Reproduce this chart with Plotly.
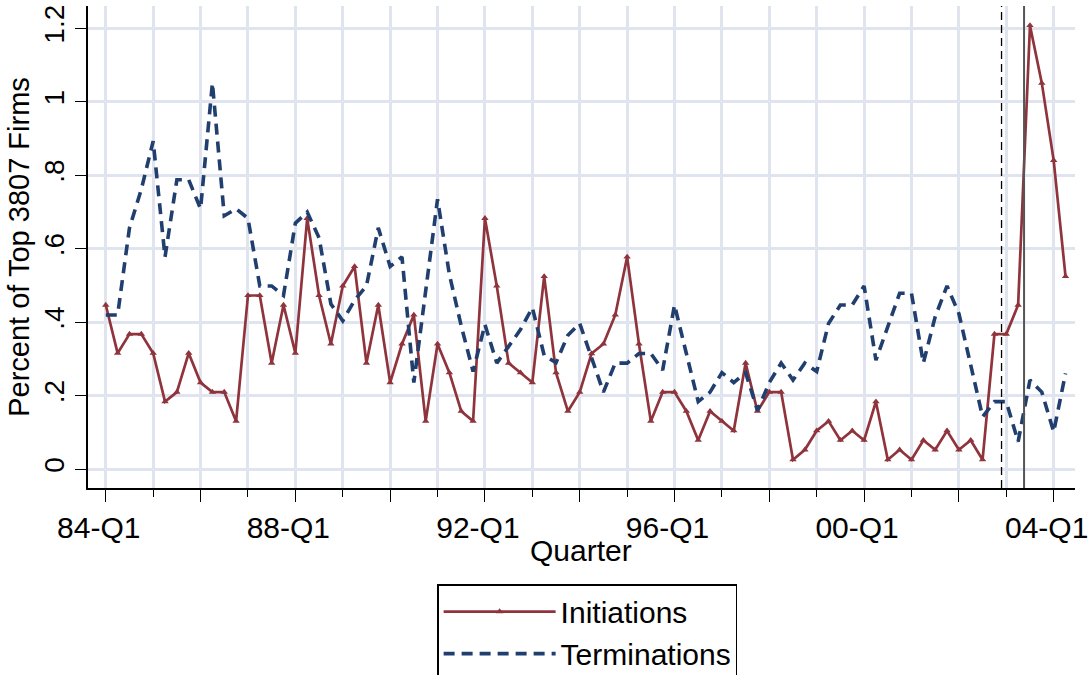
import plotly.graph_objects as go

# Quarterly series, 84-Q1 through 04-Q2 (percent of top 3807 firms)
initiations = [
    0.447, 0.316, 0.368, 0.368, 0.316, 0.184, 0.210, 0.316,
    0.236, 0.210, 0.210, 0.131, 0.473, 0.473, 0.289, 0.447,
    0.316, 0.683, 0.473, 0.341, 0.499, 0.552, 0.289, 0.447,
    0.236, 0.341, 0.420, 0.131, 0.341, 0.263, 0.158, 0.131,
    0.683, 0.499, 0.289, 0.263, 0.236, 0.525, 0.263, 0.158,
    0.210, 0.315, 0.341, 0.420, 0.578, 0.341, 0.131, 0.210,
    0.210, 0.158, 0.079, 0.158, 0.131, 0.105, 0.289, 0.158,
    0.210, 0.210, 0.026, 0.053, 0.105, 0.131, 0.079, 0.105,
    0.079, 0.184, 0.026, 0.053, 0.026, 0.079, 0.053, 0.105,
    0.053, 0.079, 0.026, 0.368, 0.368, 0.447, 1.208, 1.051,
    0.841, 0.525,
]

terminations = [
    0.420, 0.420, 0.657, 0.762, 0.893, 0.578, 0.788, 0.788,
    0.709, 1.051, 0.690, 0.709, 0.683, 0.499, 0.499, 0.473,
    0.670, 0.700, 0.630, 0.450, 0.404, 0.460, 0.499, 0.657,
    0.552, 0.578, 0.236, 0.490, 0.735, 0.530, 0.390, 0.266,
    0.394, 0.289, 0.336, 0.380, 0.440, 0.310, 0.290, 0.365,
    0.397, 0.307, 0.210, 0.289, 0.289, 0.315, 0.315, 0.270,
    0.447, 0.315, 0.184, 0.210, 0.263, 0.236, 0.263, 0.160,
    0.236, 0.289, 0.243, 0.289, 0.266, 0.397, 0.447, 0.447,
    0.499, 0.297, 0.390, 0.479, 0.479, 0.289, 0.415, 0.499,
    0.424, 0.279, 0.143, 0.184, 0.184, 0.075, 0.243, 0.210,
    0.102, 0.261,
]

# quarter index: 0 = 84-Q1
quarter_idx = list(range(len(initiations)))

x_tick_vals = [0, 8, 16, 24, 32, 40, 48, 56, 64, 72, 80]
x_tick_text = ["84-Q1", "", "88-Q1", "", "92-Q1", "", "96-Q1", "", "00-Q1", "", "04-Q1"]

y_tick_vals = [0, 0.2, 0.4, 0.6, 0.8, 1.0, 1.2]
y_tick_text = ["0", ".2", ".4", ".6", ".8", "1", "1.2"]

# event markers (quarter index)
event_dashed = 75.6
event_solid = 77.5

RED = "#8F343C"
NAVY = "#203E6E"
GRID = "#E0E4EE"
FONT = "Liberation Sans, Arial, sans-serif"
FS = 30

fig = go.Figure()

fig.add_trace(go.Scatter(
    x=quarter_idx, y=initiations, name="Initiations",
    mode="lines+markers",
    line=dict(color=RED, width=2.7),
    marker=dict(symbol="triangle-up", size=6.5, color=RED),
))

fig.add_trace(go.Scatter(
    x=quarter_idx, y=terminations, name="Terminations",
    mode="lines",
    line=dict(color=NAVY, width=3.6, dash="11px,7px"),
))

fig.add_shape(type="line", xref="x", yref="paper",
              x0=event_dashed, x1=event_dashed, y0=0, y1=1,
              line=dict(color="black", width=1.3, dash="8px,5px"))
fig.add_shape(type="line", xref="x", yref="paper",
              x0=event_solid, x1=event_solid, y0=0, y1=1,
              line=dict(color="#555555", width=2))

# x-axis title placed just under the tick labels
fig.add_annotation(
    text="Quarter", xref="paper", yref="paper", x=0.499, y=0,
    xanchor="center", yanchor="middle", yshift=-62, showarrow=False,
    font=dict(family=FONT, size=FS, color="black"),
)

fig.update_layout(
    width=1091, height=675,
    margin=dict(l=88, r=16, t=6, b=187, autoexpand=False),
    plot_bgcolor="white", paper_bgcolor="white",
    font=dict(family=FONT, size=FS, color="black"),
    showlegend=True,
    legend=dict(
        x=0.506, xanchor="center", y=-0.2, yanchor="top",
        bordercolor="black", borderwidth=1.2, bgcolor="white",
        itemwidth=112, tracegroupgap=0,
        font=dict(family=FONT, size=FS, color="black"),
    ),
)

fig.update_xaxes(
    range=[-1.5, 81.8],
    automargin=False,
    tickmode="array", tickvals=x_tick_vals, ticktext=x_tick_text,
    ticklabeloverflow="allow", ticklabelshift=-7,
    ticks="outside", ticklen=12, tickwidth=1.3, tickcolor="black",
    showline=True, linecolor="black", linewidth=1.5,
    showgrid=True, gridcolor=GRID, gridwidth=2.6,
    minor=dict(dtick=4, tick0=0, ticks="outside", ticklen=7, tickwidth=1,
               tickcolor="black", showgrid=True, gridcolor=GRID, gridwidth=2.6),
    zeroline=False,
)

fig.update_yaxes(
    range=[-0.051, 1.261],
    automargin=False,
    tickmode="array", tickvals=y_tick_vals, ticktext=y_tick_text,
    tickangle=-90, tickfont=dict(size=28),
    ticks="outside", ticklen=11, tickwidth=1.3, tickcolor="black",
    showline=True, linecolor="black", linewidth=1.5,
    showgrid=True, gridcolor=GRID, gridwidth=2.6,
    zeroline=False,
    title=dict(text="Percent of Top 3807 Firms", standoff=1, font=dict(size=29)),
)

fig.write_html("out.html")
